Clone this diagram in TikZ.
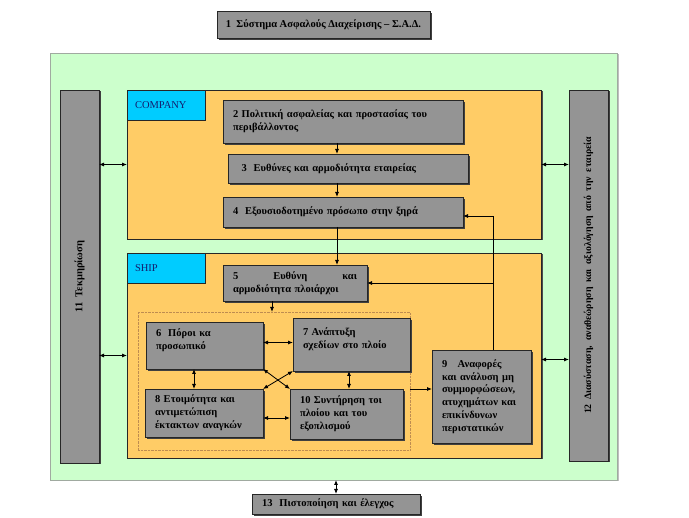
\documentclass[tikz,border=0pt]{standalone}
\usepackage{fontspec}
\usepackage{graphicx}
\setmainfont{Liberation Serif}
\usetikzlibrary{arrows.meta,shadows}
\definecolor{boxgray}{RGB}{148,148,148}
\definecolor{framegreen}{RGB}{204,255,204}
\definecolor{framegray}{RGB}{160,170,160}
\definecolor{zoneorange}{RGB}{255,204,102}
\definecolor{tagcyan}{RGB}{0,204,255}
\definecolor{tagtext}{RGB}{20,30,110}
\definecolor{grpline}{RGB}{190,140,80}
\newcommand{\boxfont}{\bfseries\fontsize{10.5}{12.8}\selectfont}
\tikzset{
  grbox/.style={draw=black!85, fill=boxgray, inner xsep=10pt, inner ysep=2pt, align=left, font=\boxfont,
    drop shadow={shadow xshift=2pt, shadow yshift=-2pt, fill=black!75, opacity=1}},
  barbox/.style={draw=black!85, fill=boxgray, inner sep=0pt, font=\boxfont, minimum width=39pt,
    drop shadow={shadow xshift=1.5pt, shadow yshift=-1.5pt, fill=black!75, opacity=1}},
  zone/.style={draw=black!85, fill=zoneorange, minimum width=414pt, inner sep=0pt,
    drop shadow={shadow xshift=1.5pt, shadow yshift=-1.5pt, fill=black!70, opacity=1}},
  tag/.style={draw=black!85, fill=tagcyan, minimum width=78pt, minimum height=30pt, inner sep=0pt,
    text=tagtext, font=\fontsize{10.5}{12}\selectfont, align=left, text width=62pt},
  arr/.style={line width=0.8pt, -{Latex[length=5pt,width=4pt]}},
  dbl/.style={line width=0.8pt, {Latex[length=5pt,width=4pt]}-{Latex[length=5pt,width=4pt]}}
}
\begin{document}
\begin{tikzpicture}[x={(1pt,0pt)},y={(0pt,-1pt)},every node/.style={outer sep=0pt}]
\useasboundingbox (0,0) rectangle (689,518);
% title and outer frame
\node[grbox, minimum width=213pt, minimum height=27pt, inner xsep=2pt] (sad) at (323.5,24.5) {1\ \ Σύστημα Ασφαλούς Διαχείρισης – Σ.Α.Δ.};
\node[draw=framegray, fill=framegreen, minimum width=567pt, minimum height=427pt,
  drop shadow={shadow xshift=1.5pt, shadow yshift=-1.5pt, fill=black!25, opacity=1}] (frame) at (333.5,266.5) {};
\node[barbox, minimum height=373pt] (doc) at (79.5,276.5) {\rotatebox{90}{11\ \ Τεκμηρίωση}};
\node[barbox, minimum height=371pt, font=\bfseries\fontsize{9.8}{12}\selectfont] (review) at (588.5,275.5) {\rotatebox{90}{\makebox[277pt][s]{12 Διασύσταση, αναθεώρηση και αξιολόγηση από την εταιρεία}}};
% company
\node[zone, minimum height=149pt] (company) at (334,164.5) {};
\node[tag] (complbl) at (166,105) {COMPANY\\[6pt]};
\node[grbox, text width=220pt, minimum height=43pt] (policy) at (343,121.5) {2 Πολιτική ασφαλείας και προστασίας του\\περιβάλλοντος};
\node[grbox, text width=220pt, minimum height=29pt] (resp) at (348,168.5) {\ 3\ \ Ευθύνες και αρμοδιότητα εταιρείας};
\node[grbox, text width=220pt, minimum height=30pt] (dp) at (343,212) {4\ \ Εξουσιοδοτημένο πρόσωπο στην ξηρά};
% ship
\node[zone, minimum height=205pt] (ship) at (334,355.5) {};
\node[tag] (shiplbl) at (166,268) {SHIP\\[6pt]};
\node[grbox, text width=124pt, minimum height=36pt] (master) at (295,283) {\makebox[124pt]{5\hfill Ευθύνη\hfill και}\\αρμοδιότητα πλοιάρχοι};
\node[draw=grpline, densely dotted, minimum width=272pt, minimum height=138pt] (grp) at (274,381) {};
\node[grbox, text width=97pt, minimum height=47pt] (resources) at (204.5,345.5) {6\ \ Πόροι κα\\προσωπικό\\~};
\node[grbox, text width=97pt, minimum height=53pt] (plans) at (351.5,344.5) {7 Ανάπτυξη\\σχεδίων στο πλοίο\\~};
\node[grbox, text width=98pt, minimum height=48pt] (emerg) at (204,413) {8 Ετοιμότητα και\\αντιμετώπιση\\έκτακτων αναγκών};
\node[grbox, text width=93pt, minimum height=50pt] (maint) at (346.5,414) {10 Συντήρηση τοι\\πλοίου και του\\εξοπλισμού};
\node[grbox, text width=79pt, minimum height=93pt] (reports) at (481.5,396.5) {9\ \ \ Αναφορές\\και ανάλυση μη\\συμμορφώσεων,\\ατυχημάτων και\\επικίνδυνων\\περιστατικών};
\node[grbox, text width=148pt, minimum height=20pt, inner ysep=0pt] (cert) at (336,504) {13\ \ Πιστοποίηση και έλεγχος};
% connectors
\coordinate (spine) at (337,0);
\coordinate (drop) at (272,0);
\coordinate (riser) at (493,0);
\coordinate (c6) at (194,0);
\coordinate (c7) at (349,0);
\coordinate (r810) at (0,418);
\coordinate (r9) at (0,389);
\draw[arr] (policy.south -| spine) -- (resp.north -| spine);
\draw[arr] (resp.south -| spine) -- (dp.north -| spine);
\draw[arr] (dp.south -| spine) -- (master.north -| spine);
\draw[arr] (master.south -| drop) -- (grp.north -| drop);
\draw[arr] (reports.north -| riser) |- ([yshift=-4pt]dp.east);
\draw[arr] (master.east -| riser) -- (master.east);
\draw[dbl] ([yshift=3pt]resources.east) -- ([yshift=3pt]resources.east -| plans.west);
\draw[dbl] (resources.south -| c6) -- (emerg.north -| c6);
\draw[dbl] (plans.south -| c7) -- (maint.north -| c7);
\draw[dbl] (resources.south east) -- (maint.north west);
\draw[dbl] (emerg.north east) -- (plans.south west);
\draw[dbl] (emerg.east |- r810) -- (maint.west |- r810);
\draw[arr] (grp.east |- r9) -- (reports.west |- r9);
\draw[dbl] (doc.east |- company.west) -- (company.west);
\draw[dbl] (doc.east |- ship.west) -- (ship.west);
\draw[dbl] (company.east) -- (company.east -| review.west);
\draw[dbl] ([yshift=-4pt]ship.east) -- ([yshift=-4pt]ship.east -| review.west);
\draw[dbl] (cert.north) -- (cert.north |- frame.south);
\end{tikzpicture}
\end{document}
